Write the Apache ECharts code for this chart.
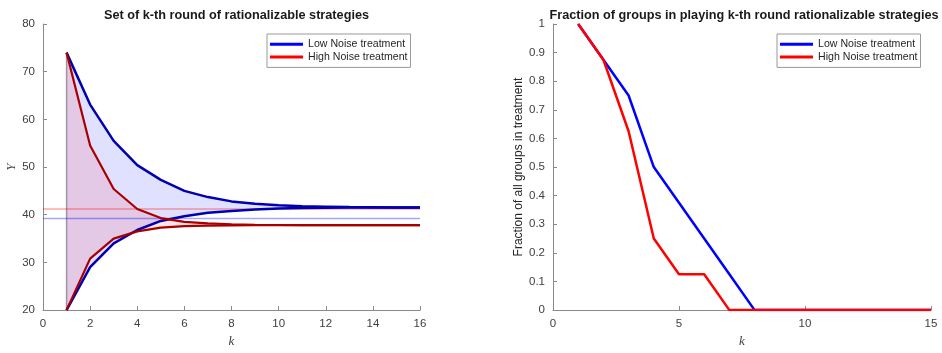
<!DOCTYPE html>
<html>
<head>
<meta charset="utf-8">
<script src="https://cdn.jsdelivr.net/npm/echarts@6/dist/echarts.min.js"></script>
<style>html,body{margin:0;padding:0;background:#fff}#c{width:942px;height:353px}</style>
</head>
<body>
<div id="c"></div>
<script>
// ---- Left chart data ----
const kLeft = [1,2,3,4,5,6,7,8,9,10,11,12,13,14,15,16];
const lowUpper  = [74, 63.1, 55.5, 50.4, 47.3, 45.0, 43.7, 42.8, 42.3, 42.0, 41.8, 41.7, 41.6, 41.55, 41.5, 41.5];
const lowLower  = [20, 29.0, 34.0, 36.8, 38.7, 39.7, 40.4, 40.8, 41.1, 41.3, 41.4, 41.45, 41.5, 41.5, 41.5, 41.5];
const highUpper = [74, 54.5, 45.4, 41.2, 39.3, 38.5, 38.2, 38.0, 37.9, 37.85, 37.8, 37.8, 37.8, 37.8, 37.8, 37.8];
const highLower = [20, 30.8, 35.0, 36.5, 37.3, 37.6, 37.7, 37.75, 37.8, 37.8, 37.8, 37.8, 37.8, 37.8, 37.8, 37.8];
const refHigh = 41.2;
const refLow = 39.2;
const leftXTicks = [0, 16, 2];
const leftYTicks = [20, 80, 10];

// ---- Right chart data ----
const kRight = [1,2,3,4,5,6,7,8,9,10,11,12,13,14,15];
const lowFrac  = [1, 0.875, 0.75, 0.5, 0.375, 0.25, 0.125, 0, 0, 0, 0, 0, 0, 0, 0];
const highFrac = [1, 0.875, 0.625, 0.25, 0.125, 0.125, 0, 0, 0, 0, 0, 0, 0, 0, 0];
const rightXTicks = [0, 15, 5];
const rightYTicks = [0, 1, 0.1];

const LOW = 'Low Noise treatment';
const HIGH = 'High Noise treatment';

const zip = (xs, ys) => xs.map((x, i) => [x, ys[i]]);

function bandSeries(upper, lower, fill, z) {
  return {
    type: 'custom', xAxisIndex: 0, yAxisIndex: 0, silent: true, z: z,
    data: [[kLeft[0], lower[0]]],
    renderItem: function (params, api) {
      const pts = [];
      for (let i = 0; i < kLeft.length; i++) pts.push(api.coord([kLeft[i], upper[i]]));
      for (let i = kLeft.length - 1; i >= 0; i--) pts.push(api.coord([kLeft[i], lower[i]]));
      return { type: 'polygon', shape: { points: pts }, style: { fill: fill, stroke: null } };
    }
  };
}

function lineSeries(name, data, color, width, xi, z) {
  return {
    name: name, type: 'line', xAxisIndex: xi, yAxisIndex: xi, data: data,
    showSymbol: false, symbol: 'none', animation: false, z: z,
    lineStyle: { color: color, width: width }, itemStyle: { color: color },
    emphasis: { disabled: true }
  };
}

const tickFont = 'Liberation Sans, Arial, sans-serif';

const axisCommon = {
  axisLine: { show: true, lineStyle: { color: '#8a8a8a', width: 1 } },
  axisTick: { show: true, inside: true, length: 4, lineStyle: { color: '#8a8a8a' } },
  splitLine: { show: false },
  axisLabel: { color: '#404040', fontSize: 11.5, fontFamily: tickFont }
};

function legendAt(left) {
  return { left: left, top: 34, orient: 'vertical', itemGap: 0, itemWidth: 33, itemHeight: 3, icon: 'rect',
    padding: [4, 3, 4, 3], borderColor: '#999', borderWidth: 1, backgroundColor: '#fff',
    textStyle: { fontSize: 10.6, lineHeight: 12.7, color: '#262626', fontFamily: tickFont },
    selectedMode: false,
    data: [{ name: LOW, itemStyle: { color: '#0000ff' } }, { name: HIGH, itemStyle: { color: '#ff0000' } }] };
}

const serifName = { fontFamily: 'Liberation Serif, DejaVu Serif, serif', fontStyle: 'italic', fontSize: 13, color: '#404040' };

const option = {
  animation: false,
  backgroundColor: '#fff',
  title: [
    { text: 'Set of k-th round of rationalizable strategies', left: 231.5, top: 4, textAlign: 'center',
      textStyle: { fontSize: 12.7, fontWeight: 'bold', color: '#1a1a1a', fontFamily: tickFont } },
    { text: 'Fraction of groups in playing k-th round rationalizable strategies', left: 739, top: 4, textAlign: 'center',
      textStyle: { fontSize: 12.7, fontWeight: 'bold', color: '#1a1a1a', fontFamily: tickFont } }
  ],
  legend: [ legendAt(267), legendAt(777) ],
  grid: [
    { left: 43, top: 24, width: 377, height: 297, containLabel: false },
    { left: 553, top: 24, width: 378, height: 297, containLabel: false }
  ],
  xAxis: [
    Object.assign({}, axisCommon, { type: 'value', gridIndex: 0, min: leftXTicks[0], max: leftXTicks[1], interval: leftXTicks[2],
      name: 'k', nameLocation: 'middle', nameGap: 22, nameTextStyle: serifName }),
    Object.assign({}, axisCommon, { type: 'value', gridIndex: 1, min: rightXTicks[0], max: rightXTicks[1], interval: rightXTicks[2],
      name: 'k', nameLocation: 'middle', nameGap: 22, nameTextStyle: serifName })
  ],
  yAxis: [
    Object.assign({}, axisCommon, { type: 'value', gridIndex: 0, min: leftYTicks[0], max: leftYTicks[1], interval: leftYTicks[2],
      name: 'Y', nameLocation: 'middle', nameGap: 23, nameRotate: 90, nameTextStyle: serifName }),
    Object.assign({}, axisCommon, { type: 'value', gridIndex: 1, min: rightYTicks[0], max: rightYTicks[1], interval: rightYTicks[2],
      name: 'Fraction of all groups in treatment', nameLocation: 'middle', nameGap: 22, nameRotate: 90,
      nameTextStyle: { fontFamily: tickFont, fontSize: 12, color: '#262626' } })
  ],
  series: [
    bandSeries(lowUpper, lowLower, 'rgba(0,0,255,0.12)', 1),
    bandSeries(highUpper, highLower, 'rgba(255,0,0,0.10)', 2),
    lineSeries('edge', [[kLeft[0], lowLower[0]], [kLeft[0], lowUpper[0]]], 'rgba(0,0,0,0.35)', 1.5, 0, 3),
    lineSeries('refHigh', [[leftXTicks[0], refHigh], [leftXTicks[1], refHigh]], 'rgba(255,0,0,0.35)', 1.5, 0, 3),
    lineSeries('refLow', [[leftXTicks[0], refLow], [leftXTicks[1], refLow]], 'rgba(0,0,255,0.35)', 1.5, 0, 3),
    lineSeries(LOW, zip(kLeft, lowUpper), '#0000b0', 2.5, 0, 4),
    lineSeries(LOW, zip(kLeft, lowLower), '#0000b0', 2.5, 0, 4),
    lineSeries(HIGH, zip(kLeft, highUpper), '#a80000', 2.2, 0, 5),
    lineSeries(HIGH, zip(kLeft, highLower), '#a80000', 2.2, 0, 5),
    lineSeries(LOW, zip(kRight, lowFrac), '#0000ff', 2.5, 1, 4),
    lineSeries(HIGH, zip(kRight, highFrac), '#ff0000', 2.5, 1, 5)
  ]
};

const chart = echarts.init(document.getElementById('c'), null, { renderer: 'canvas' });
chart.setOption(option);
</script>
</body>
</html>
